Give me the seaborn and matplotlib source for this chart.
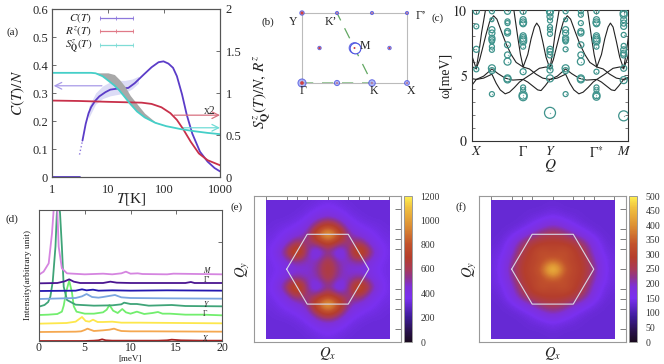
import numpy as np
import pandas as pd
import matplotlib
matplotlib.use("Agg")
import matplotlib.pyplot as plt
from matplotlib.colors import LinearSegmentedColormap
import seaborn as sns

sns.set_theme(style="white")
plt.rcParams["font.family"] = ["Liberation Serif", "DejaVu Serif"]
plt.rcParams["mathtext.fontset"] = "stix"
plt.rcParams["axes.linewidth"] = 0.8

W, H = 664, 364
# ---------- panel (a)
T_c0 = [1, 2, 3, 3.1]
C_v0 = [0, 0, 0, 0]
T_cd = [3.1, 3.5]
C_vd = [.08, .13]
T_c = [3.5, 4, 4.5, 5, 5.9, 7, 9, 11, 15, 23, 30, 43, 60, 80, 98, 120, 145, 170, 210, 255, 320, 440, 600, 800, 1000]
C_v = [.13, .19, .228, .25, .272, .288, .303, .312, .316, .318, .335, .365, .392, .41, .413, .405, .39, .36, .295, .222, .155, .09, .055, .032, .02]
T_s = [1, 3, 5, 6, 8, 10, 13, 16, 20, 25, 33, 45, 70, 110, 200, 350, 600, 1000]
S_v = [1.24, 1.24, 1.24, 1.235, 1.2, 1.15, 1.09, 1.03, .95, .87, .78, .71, .645, .605, .57, .545, .525, .51]
S_top = [1.24, 1.24, 1.24, 1.24, 1.24, 1.24, 1.22, 1.16, 1.08, .97, .87, .76, .655, .605, .57, .545, .525, .51]
T_r = [1, 3, 10, 20, 40, 60, 90, 130, 170, 220, 300, 420, 600, 1000]
R_v = [.91, .905, .895, .89, .885, .87, .83, .76, .68, .57, .42, .28, .2, .14]
Tb = [4.5, 6, 8, 11, 15, 20, 27, 35]
Cb_lo = [.21, .26, .28, .29, .295, .3, .315, .335]
Cb_hi = [.25, .30, .325, .34, .345, .345, .35, .36]

# ---------- panel (b)
bz_x = [0, 1, 2, 3, .5, 1.5, 2.5, 0, 1, 2, 3]
bz_y = [0, 0, 0, 0, 1, 1, 1, 2, 2, 2, 2]
bz_blue = [34, 14, 22, 12, 6, 60, 6, 10, 5, 5, 5]
bz_red = [7, 1, 1, 1, 3, 2, 2, 5, 1, 1, 1]
path_x = [0, 2, 1, 0, 0]
path_y = [0, 0, 2, 2, 0]

# ---------- panel (c)
q_ticks = [0, 141, 222, 362, 444]
q_labels = ["$X$", r"$\Gamma$", "$Y$", r"$\Gamma^{*}$", "$M$"]
b1_q = [0, 10, 20, 30, 40, 52, 62, 75, 90, 105, 120, 141, 160, 180, 200, 222]
b1_w = [5.55, 6.2, 7.2, 8.2, 9.1, 9.56, 9.3, 8.4, 7.4, 6.6, 6.0, 5.65, 5.5, 5.1, 4.8, 4.7]
b2_q = [0, 8, 16, 29, 112, 125, 133, 141, 155, 165, 175, 182, 190, 200, 210, 222]
b2_w = [5.55, 6.8, 8.3, 10.2, 10.2, 7.9, 6.6, 5.65, 6.6, 7.8, 8.7, 9.0, 8.7, 7.6, 6.4, 5.5]
b3_q = [0, 22, 47, 60, 72, 87, 100, 115, 130, 141, 155, 170, 185, 195, 207, 222]
b3_w = [4.7, 4.8, 5.1, 4.4, 3.9, 3.6, 3.73, 4.09, 4.5, 4.7, 4.5, 4.2, 3.9, 3.85, 4.2, 4.7]
b4_q = [0, 22, 47, 65, 87, 110, 141, 165, 190, 210, 222]
b4_w = [4.7, 4.95, 5.5, 5.15, 4.8, 4.65, 4.7, 5.1, 5.55, 5.65, 5.55]
col_q = {
    0: ([9.9, 8.75, 7.0, 5.47], [6, 5, 6, 5]),
    47: ([9.9, 9.26, 8.5, 8.24, 7.85, 7.72, 7.6, 7.2, 6.96, 5.55, 5.37, 3.58], [5, 4, 6, 6, 6, 6, 5, 5, 5, 7, 6, 5]),
    94: ([9.9, 9.13, 9.0, 8.36, 8.24, 7.34, 6.57, 6.06, 4.78, 4.7], [6, 5, 5, 6, 6, 6, 6, 7, 7, 7]),
    141: ([9.9, 9.26, 9.05, 8.95, 8.03, 7.85, 7.72, 7.6, 7.2, 5.29, 4.09, 3.89, 3.5, 3.38], [6, 6, 7, 6, 6, 7, 7, 7, 5, 6, 5, 5, 8, 8]),
    222: ([9.9, 9.77, 9.5, 9.2, 8.7, 8.5, 8.18, 7.0, 6.83, 6.57, 5.68, 5.42, 4.78, 2.15], [7, 6, 6, 5, 5, 5, 5, 6, 6, 6, 5, 6, 7, 11]),
    269: ([9.9, 9.26, 8.5, 8.24, 7.85, 7.72, 7.6, 7.0, 5.55, 5.37, 3.58], [5, 4, 6, 6, 6, 6, 5, 5, 7, 6, 5]),
    315: ([9.9, 9.64, 9.0, 8.36, 8.24, 7.34, 6.57, 6.06, 4.78, 4.7], [5, 5, 5, 6, 6, 6, 6, 7, 7, 7]),
    362: ([9.9, 9.26, 9.05, 8.95, 8.03, 7.85, 7.72, 7.6, 7.2, 5.29, 4.09, 3.89, 3.5, 3.38], [5, 6, 7, 6, 6, 7, 7, 7, 5, 5, 5, 5, 7, 7]),
    444: ([9.77, 9.64, 9.26, 9.0, 8.75, 8.1, 7.26, 6.96, 6.7, 6.57, 5.55, 4.65, 1.92], [7, 7, 6, 6, 6, 5, 5, 6, 6, 6, 6, 7, 10]),
}

# ---------- panel (d): name -> (E, height, baseline, colour)
d_X = ([0, 5, 6, 6.5, 6.9, 7.3, 8, 10, 13, 14, 14.5, 15, 15.5, 18, 20], [0, 0, 1, 2, 5, 2, 1, 1, 1, 2, 4, 3, 2, 1, 1])
d_O = ([0, 4, 4.6, 5, 5.3, 5.6, 6, 7, 7.7, 8.2, 8.6, 9, 10, 12, 20], [0, 1, 2, 6, 10, 7, 3, 5, 7, 10, 6, 3, 2, 2, 1])
d_Ye = ([0, 3, 4, 4.3, 4.7, 5.1, 5.5, 5.9, 6.4, 7, 8, 9, 11, 20], [0, 2, 6, 12, 20, 8, 6, 12, 5, 5, 6, 3, 3, 1])
d_L = ([0, 1, 2, 2.5, 2.7, 3, 3.3, 3.6, 3.8, 4.1, 5, 6, 7, 7.4, 7.7, 8.1, 8.6, 9.1, 9.5, 10, 10.7, 11.5, 12.4, 13, 13.5, 14.3, 16, 18, 20],
       [2, 3, 5, 12, 30, 75, 105, 70, 28, 12, 6, 6, 10, 18, 32, 15, 8, 20, 10, 6, 12, 5, 8, 11, 6, 6, 3, 3, 1])
d_G = ([0, .6, 1, 1.24, 1.5, 1.8, 1.95, 2.15, 2.3, 2.5, 2.7, 3.06, 4, 6, 8, 9, 9.3, 10, 10.7, 12, 14.5, 16, 20],
       [0, 5, 14, 30, 75, 180, 280, 320, 280, 180, 60, 20, 6, 3, 4, 7, 12, 8, 8, 3, 5, 2, 1])
d_B = ([0, 4, 4.7, 5.2, 5.8, 6.5, 7, 8.3, 9, 10, 14, 20], [0, 3, 8, 15, 6, 4, 6, 12, 5, 3, 2, 1])
d_N = ([0, 4, 4.7, 5.2, 5.9, 6.5, 8, 10, 14, 20], [0, 1, 5, 2, 4, 1, 2, 1, 2, 1])
d_I = ([0, 2, 2.8, 3.3, 3.8, 4.5, 7, 7.8, 8.5, 10, 16, 16.6, 17, 20], [0, 1, 6, 12, 5, 1, 1, 5, 2, 1, 1, 4, 1, 1])
d_V = ([0, .5, 1.06, 1.42, 1.6, 1.8, 2.0, 2.15, 2.5, 3.06, 5, 7, 8, 9, 9.5, 10, 10.8, 11.3, 14, 14.7, 20],
       [0, 9, 34, 124, 194, 240, 194, 84, 19, 4, 1, 3, 1, 4, 9, 3, 4, 2, 1, 3, 1])
d_series = [(d_X, 0, "#a82020"), (d_O, 27, "#f5a850"), (d_Ye, 52, "#fde74c"), (d_L, 76, "#72ee6e"),
            (d_G, 103, "#3fa478"), (d_B, 126, "#7ba6e0"), (d_N, 150, "#2418b0"), (d_I, 173, "#4a1590"), (d_V, 199, "#d585e0")]

# ---------- panels (e), (f): upper right quadrant, rows y = 0 .. 3.5, columns x = 0 .. 3
map_e = [[720, 520, 440, 430, 400, 350, 340],
         [690, 480, 470, 540, 460, 360, 340],
         [560, 300, 510, 930, 600, 390, 340],
         [760, 600, 540, 640, 440, 360, 340],
         [1130, 860, 500, 430, 380, 340, 330],
         [780, 620, 420, 360, 340, 330, 320],
         [470, 420, 350, 330, 320, 320, 320],
         [380, 350, 330, 320, 320, 320, 320],
         [340, 330, 320, 320, 320, 320, 320]]
map_f = [[520, 360, 305, 290, 220, 150, 135],
         [360, 325, 300, 285, 205, 150, 135],
         [305, 335, 300, 265, 180, 140, 135],
         [295, 290, 280, 235, 165, 135, 130],
         [265, 250, 205, 165, 140, 130, 130],
         [205, 180, 150, 135, 130, 130, 130],
         [150, 140, 135, 130, 130, 130, 130],
         [135, 130, 130, 130, 130, 130, 130],
         [130, 130, 130, 130, 130, 130, 130]]
hex_x = [-2, -1, 1, 2, 1, -1, -2]
hex_y = [0, 1.75, 1.75, 0, -1.75, -1.75, 0]
q_minor = [-3, -2, -1.5, -1, 0, 1, 1.5, 2, 3]

fig = plt.figure(figsize=(W / 100, H / 100), dpi=100)


def ax_px(l, t, r, b):
    return fig.add_axes([l / W, 1 - b / H, (r - l) / W, (b - t) / H])


def label(x, y, s, size=9, **kw):
    kw.setdefault("ha", "center")
    kw.setdefault("va", "center")
    fig.text(x / W, 1 - y / H, s, fontsize=size, color=kw.pop("color", "#222222"), **kw)


def frame(ax, c="#555555"):
    for sp in ax.spines.values():
        sp.set_color(c)
        sp.set_visible(True)


# ---------- (a)
a = ax_px(52, 9, 220, 177)
a2 = a.twinx()
a.set_xscale("log")
a.fill_between(Tb, Cb_lo, Cb_hi, color="#dcdcf6", lw=0)
sns.lineplot(x=T_c0, y=C_v0, ax=a, color="#5b3cc8", lw=1.3, errorbar=None, sort=False)
a.plot(T_cd, C_vd, color="#8d78dc", lw=1, ls=":")
sns.lineplot(x=T_c, y=C_v, ax=a, color="#5b3cc8", lw=1.3, errorbar=None, sort=False)
a2.fill_between(T_s, S_v, S_top, color="#a8a8a8", lw=0)
sns.lineplot(x=T_r, y=R_v, ax=a2, color="#c8304a", lw=1.3, errorbar=None, sort=False)
sns.lineplot(x=T_s, y=S_v, ax=a2, color="#45cfc8", lw=1.3, errorbar=None, sort=False)
a.set_xlim(1, 1000)
a.set_ylim(0, 0.6)
a2.set_ylim(0, 2)
a.set_yticks([0, .1, .2, .3, .4, .5, .6])
a.set_yticklabels(["0", "0.1", "0.2", "0.3", "0.4", "0.5", "0.6"])
a2.set_yticks([0, .5, 1, 1.5, 2])
a2.set_yticklabels(["0", "0.5", "1", "1.5", "2"])
a.set_xticks([1, 10, 100, 1000])
a.set_xticklabels(["1", "10", "100", "1000"])
a.minorticks_off()
a.tick_params(axis="both", which="major", direction="in", length=3, width=.6, labelsize=9, pad=3, color="#555555")
a.tick_params(axis="x", top=True, pad=5)
a2.tick_params(axis="y", direction="in", length=3, width=.6, labelsize=9, pad=4, color="#555555")
frame(a)
frame(a2)
for (yy, col, txt) in [(.945, "#8d78dc", "$C(T)$"), (.87, "#e07a88", "$R^{z}(T)$"), (.785, "#7fdcd6", r"$S^{z}_{\mathbf{Q}}(T)$")]:
    a.plot([.283, .481], [yy, yy], color=col, lw=.9, transform=a.transAxes)
    a.plot([.283, .382, .481], [yy] * 3, ls="", marker="|", ms=3, mew=.6, color=col, transform=a.transAxes)
    a.text(.238, yy, txt, transform=a.transAxes, ha="right", va="center", fontsize=8, color="#222222")
for (x0, x1, yy, col) in [(.297, .01, .543, "#a89ae8"), (.727, 1.0, .368, "#d8707f"), (.778, 1.0, .293, "#70dcd6")]:
    a.annotate("", xy=(x1, yy), xytext=(x0, yy), xycoords="axes fraction",
               arrowprops=dict(arrowstyle="->", color=col, lw=.9, shrinkA=0, shrinkB=0))
a.text(.937, .39, "x2", transform=a.transAxes, ha="center", va="center", fontsize=8.5, color="#333333")
label(13, 32, "(a)", 8)
label(18, 93, "$C(T)/N$", 11, rotation=90)
label(131, 199, "$T$[K]", 11)
label(262, 92, r"$S^{z}_{\mathbf{Q}}(T)/N,\,R^{z}$", 11, rotation=90)

# ---------- (b)
b = ax_px(302, 13, 407, 83)
sns.lineplot(x=path_x, y=path_y, ax=b, color="#62a862", lw=.9, errorbar=None, sort=False, dashes=(9, 7), estimator=None)
sns.scatterplot(x=bz_x, y=bz_y, ax=b, s=bz_blue, facecolor="#9fa8f0", edgecolor="#4a50e0", linewidth=.7, alpha=.8, clip_on=False, zorder=3)
b.scatter(bz_x[5], bz_y[5], s=bz_blue[5], facecolor="white", edgecolor="#4a50e0", linewidth=.8, clip_on=False, zorder=3)
sns.scatterplot(x=bz_x, y=bz_y, ax=b, s=bz_red, color="#d04040", linewidth=0, clip_on=False, zorder=4)
b.set_xlim(0, 3)
b.set_ylim(0, 2)
b.set_xticks([])
b.set_yticks([])
frame(b, "#bbbbbb")
label(268, 22, "(b)", 8)
label(293, 22, "Y", 8.5)
label(331, 22, "K’", 8.5)
label(421, 16, "Γ’", 8.5)
label(365, 46, "M", 8.5)
label(303, 91, "Γ", 8.5)
label(374, 91, "K", 8.5)
label(411, 91, "X", 8.5)

# ---------- (c)
c = ax_px(472, 10, 628, 141)
for off in (-222, 0, 222, 444):
    for qq, ww in [(b1_q, b1_w), (b2_q, b2_w), (b3_q, b3_w), (b4_q, b4_w)]:
        c.plot(np.array(qq) + off, ww, color="#222222", lw=.8, zorder=2)
for q, (w, dd) in col_q.items():
    df = pd.DataFrame({"q": [q] * len(w), "w": w, "s": [(v * .72) ** 2 for v in dd]})
    c.scatter(df["q"], df["w"], s=df["s"], facecolor="none", edgecolor="#3f938c", linewidth=.9, zorder=3)
    sns.scatterplot(data=df, x="q", y="w", ax=c, s=1, color="#7fb8b2", linewidth=0, zorder=3)
c.set_xlim(-13, 457)
c.set_ylim(0, 10)
c.set_xticks(q_ticks)
c.set_xticklabels(q_labels)
c.set_yticks([0, 5, 10])
c.set_yticklabels(["$0$", "$5$", "$10$"])
c.set_yticks([1, 2, 3, 4, 6, 7, 8, 9], minor=True)
c.set_xlabel("")
c.set_ylabel("")
c.tick_params(axis="both", which="major", direction="in", length=3, width=.6, labelsize=10, top=True, right=True, pad=3, color="#444444")
c.tick_params(axis="y", which="minor", direction="in", length=2, width=.5, left=True, right=True, color="#444444")
frame(c, "#333333")
label(438, 18, "(c)", 8)
label(445, 75, "ω[meV]", 10, rotation=90)
label(550, 166, "$Q$", 11)

# ---------- (d)
d = ax_px(39, 210, 222, 341)
for (E, h), base, col in d_series:
    sns.lineplot(x=E, y=np.array(h) + base, ax=d, color=col, lw=1.3, errorbar=None, sort=False, estimator=None)
d.set_xlim(0, 20)
d.set_ylim(0, 393)
d.set_xticks([0, 5, 10, 15, 20])
d.set_yticks([0, 296])
d.set_yticklabels([])
d.set_ylabel("")
d.tick_params(axis="both", direction="in", length=3, width=.6, labelsize=8.5, top=True, right=True, pad=1, color="#555555")
frame(d)
label(12, 219, "(d)", 8)
label(130, 359, "[meV]", 6.5)
label(28, 275, "Intensity(arbitrary unit)", 6.8, rotation=90)
for (x, y, s) in [(207, 270, "$M$"), (207, 280, "Γ’"), (206, 304, "$Y$"), (205, 314, "Γ"), (206, 338, "$X$")]:
    label(x, y, s, 5.5)

# ---------- (e), (f)
cmap = LinearSegmentedColormap.from_list("pm", [
    (0, "#1a0a20"), (.08, "#2a1250"), (.17, "#3e1c98"), (.3, "#7a30f0"), (.38, "#7f30d8"), (.44, "#8f3490"),
    (.5, "#a83a58"), (.58, "#b53e2c"), (.67, "#c2522c"), (.8, "#dd9034"), (.92, "#f0c040"), (1, "#fff050")], N=256)


def full(qd):
    m = np.array(qd, float)
    m = np.hstack([m[:, :0:-1], m])
    return np.vstack([m[:0:-1], m])


def heat(rect, crect, qd, vmax, ticks, tag, tagx, qyx, qxx):
    ax = ax_px(*rect)
    im = ax.imshow(full(qd), origin="lower", extent=(-3.25, 3.25, -3.72, 3.72), cmap=cmap, vmin=0, vmax=vmax,
                   interpolation="bicubic", aspect="auto", zorder=1)
    im.set_clip_path(plt.Rectangle((-3, -3.48), 6, 6.96, transform=ax.transData))
    sns.lineplot(x=hex_x, y=hex_y, ax=ax, color="#d8d8e8", lw=.8, errorbar=None, sort=False, estimator=None, zorder=2)
    ax.set_xlim(-3.59, 3.57)
    ax.set_ylim(-3.65, 3.67)
    ax.set_xticks(q_minor)
    ax.set_yticks(q_minor)
    ax.set_xticklabels([])
    ax.set_yticklabels([])
    ax.tick_params(axis="both", direction="in", length=4.5, width=.6, top=True, right=True, color="#666666")
    frame(ax, "#999999")
    cax = ax_px(*crect)
    cb = fig.colorbar(im, cax=cax, ticks=ticks)
    cb.outline.set_edgecolor("#999999")
    cb.outline.set_linewidth(.7)
    cb.ax.tick_params(labelsize=7, length=0, pad=6, colors="#333333")
    label(tagx, 207, tag, 8)
    label(qyx, 270, "$Q_y$", 10.5, rotation=90)
    label(qxx, 354, "$Q_x$", 10.5)


heat((254, 196, 401, 342), (404, 196, 412, 342), map_e, 1200, list(range(0, 1201, 200)), "(e)", 237, 243, 328)
heat((479, 196, 626, 342), (629, 196, 637, 342), map_f, 500, list(range(0, 501, 50)), "(f)", 461, 470, 553)

fig.savefig("out.png", dpi=100)
